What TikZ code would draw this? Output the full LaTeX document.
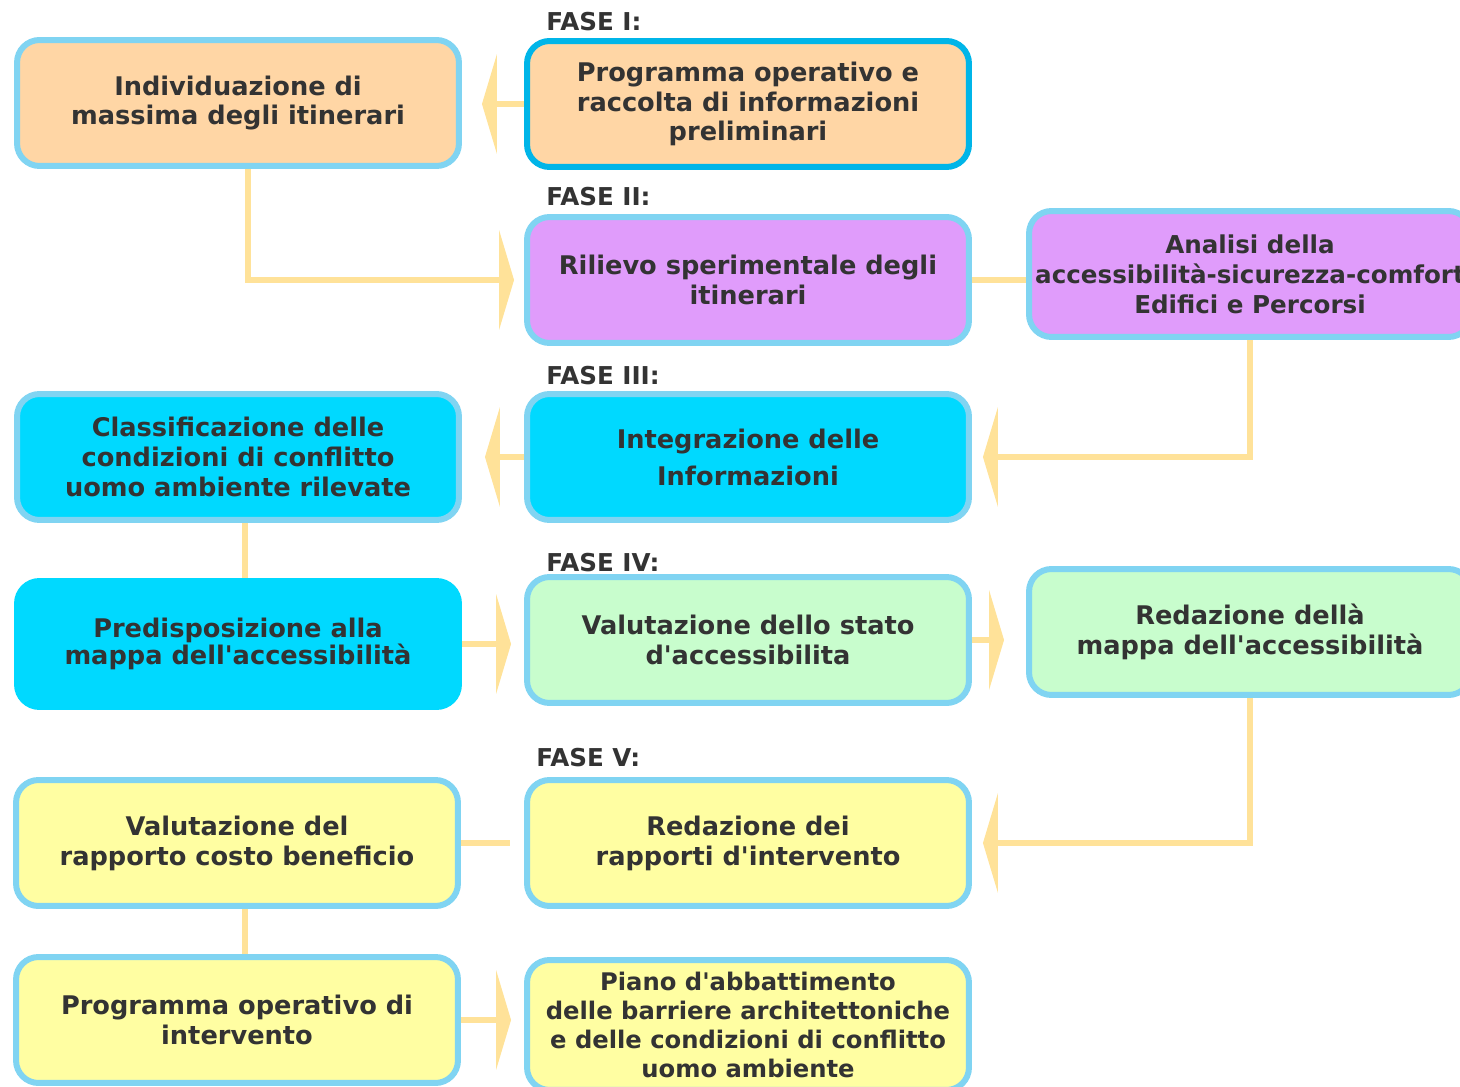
\documentclass[tikz,border=0pt]{standalone}
\usepackage{fontspec}
\setmainfont{DejaVu Sans}
\usetikzlibrary{arrows.meta}

\definecolor{peach}{HTML}{FFD6A5}
\definecolor{lilac}{HTML}{E09CFB}
\definecolor{sky}{HTML}{00D9FF}
\definecolor{mint}{HTML}{C8FDCD}
\definecolor{lemon}{HTML}{FFFEA2}
\definecolor{edge}{HTML}{80D4F2}
\definecolor{edgedark}{HTML}{00B5E8}
\definecolor{flow}{HTML}{FFE299}
\definecolor{txt}{HTML}{333333}

\begin{document}
\begin{tikzpicture}[x=0.02cm,y=-0.02cm,
    box/.style={draw=edge, line width=0.12cm, rounded corners=0.45cm,
      minimum width=8.84cm, minimum height=2.52cm, inner sep=2pt,
      align=center, text=txt, font=\bfseries\fontsize{14.6}{17}\selectfont},
    fase/.style={anchor=west, inner sep=0pt, text=txt,
      font=\bfseries\fontsize{14}{17}\selectfont},
    link/.style={draw=flow, line width=0.12cm},
    arr/.style={link, -{Triangle[length=0.3cm,width=2cm,line width=0pt]}}]
  \useasboundingbox (0,0) rectangle (1460,1087);
  \clip (0,0) rectangle (1460,1087);

  % fase I
  \node[fase] at (546,22) (f1) {FASE I:};
  \node[box, fill=peach] at (238,103) (ind) {Individuazione di\\massima degli itinerari};
  \node[box, fill=peach, draw=edgedark] at (748,104) (prog) {Programma operativo e\\raccolta di informazioni\\preliminari};

  % fase II
  \node[fase] at (546,197) (f2) {FASE II:};
  \node[box, fill=lilac] at (748,280) (ril) {Rilievo sperimentale degli\\itinerari};
  \node[box, fill=lilac, font=\bfseries\fontsize{14}{17}\selectfont] at (1250,274) (ana) {Analisi della\\accessibilità-sicurezza-comfort\\Edifici e Percorsi};

  % fase III
  \node[fase] at (546,376) (f3) {FASE III:};
  \node[box, fill=sky] at (238,457) (cla) {Classificazione delle\\condizioni di conflitto\\uomo ambiente rilevate};
  \node[box, fill=sky, font=\bfseries\fontsize{14.6}{21}\selectfont] at (748,457) (int) {Integrazione delle\\Informazioni};
  \node[box, fill=sky, draw=sky, font=\bfseries\fontsize{14.6}{15.5}\selectfont] at (238,644) (pre) {Predisposizione alla\\mappa dell\textquotesingle accessibilità};

  % fase IV
  \node[fase] at (546,563) (f4) {FASE IV:};
  \node[box, fill=mint] at (748,640) (val) {Valutazione dello stato\\d\textquotesingle accessibilita};
  \node[box, fill=mint] at (1250,632) (red) {Redazione dellà\\mappa dell\textquotesingle accessibilità};

  % fase V
  \node[fase] at (536,758) (f5) {FASE V:};
  \node[box, fill=lemon] at (237,843) (cos) {Valutazione del\\rapporto costo beneficio};
  \node[box, fill=lemon] at (748,843) (rap) {Redazione dei\\rapporti d\textquotesingle intervento};
  \node[box, fill=lemon] at (237,1020) (opi) {Programma operativo di\\intervento};
  \node[box, fill=lemon, minimum height=2.6cm, font=\bfseries\fontsize{13.8}{16.5}\selectfont] at (748,1025) (pia) {Piano d\textquotesingle abbattimento\\delle barriere architettoniche\\e delle condizioni di conflitto\\uomo ambiente};

  % connettori
  \draw[arr, shorten >=0.4cm] (prog.west) -- (prog.west -| ind.east);
  \draw[arr, shorten >=0.2cm] ([xshift=0.2cm]ind.south) |- (ril.west);
  \draw[link] (ril.east) -- (ril.east -| ana.west);
  \draw[arr, shorten >=0.22cm] (ana.south) |- (int.east);
  \draw[arr, shorten >=0.46cm] (int.west) -- (int.west -| cla.east);
  \draw[link] ([xshift=0.14cm]cla.south) -- ([xshift=0.14cm]pre.north);
  \draw[arr, shorten >=0.26cm] (pre.east) -- (pre.east -| val.west);
  \draw[arr, shorten >=0.44cm] (val.east) -- (val.east -| red.west);
  \draw[arr, shorten >=0.22cm] (red.south) |- (rap.east);
  \draw[link, shorten >=0.28cm] (cos.east) -- (cos.east -| rap.west);
  \draw[link] ([xshift=0.16cm]cos.south) -- ([xshift=0.16cm]opi.north);
  \draw[arr, shorten >=0.26cm] (opi.east) -- (opi.east -| pia.west);
\end{tikzpicture}
\end{document}
